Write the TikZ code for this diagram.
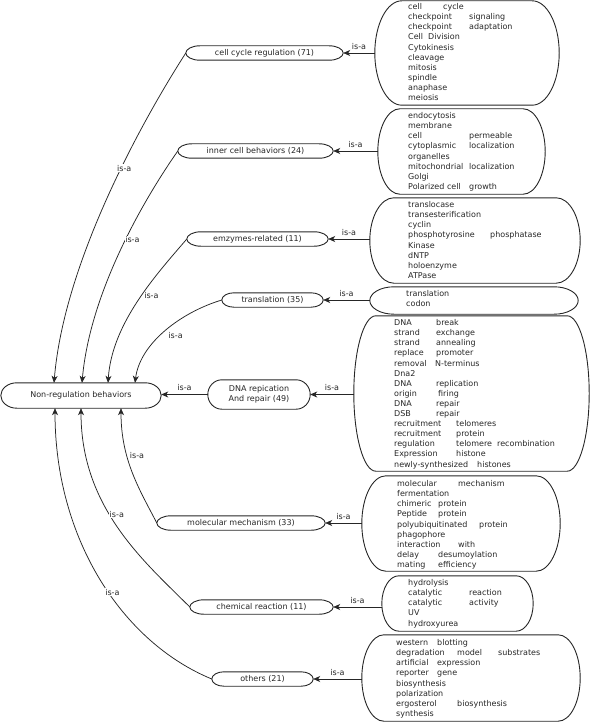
\documentclass[tikz,border=0pt]{standalone}
\usepackage{fontspec}
\setmainfont{DejaVu Sans}
\usetikzlibrary{arrows.meta}
% stadium outline with elliptical ends around a (rectangle) node: name, rx, ry (numbers in pt)
\newcommand\stad[3]{%
  \draw[bord] ([xshift=#2pt]#1.north west) -- ([xshift=-#2pt]#1.north east)
    .. controls +(0.5523*#2,0) and +(0,-0.5523*#3) .. (#1.east)
    .. controls +(0,0.5523*#3) and +(0.5523*#2,0) .. ([xshift=-#2pt]#1.south east)
    -- ([xshift=#2pt]#1.south west)
    .. controls +(-0.5523*#2,0) and +(0,0.5523*#3) .. (#1.west)
    .. controls +(0,-0.5523*#3) and +(-0.5523*#2,0) .. ([xshift=#2pt]#1.north west) -- cycle;}
\begin{document}
\begin{tikzpicture}[x=1pt,y=-1pt,font=\fontsize{8}{10.1}\selectfont,text=black!85,
  bord/.style={draw=black!85,line width=0.9pt},
  mn/.style={rectangle,inner sep=0pt,minimum height=14pt},
  bx/.style={rectangle,inner sep=0pt},
  isa/.style={draw=black!85,line width=0.75pt,-{Stealth[length=7pt,width=6pt,inset=2pt]}},
  lab/.style={fill=white,inner sep=0.6pt,font=\fontsize{8}{9}\selectfont},
  btxt/.style={anchor=north west,align=left,inner sep=0pt}]
\useasboundingbox (0,0) rectangle (600,722);

% main nodes
\node[mn,minimum width=157pt] (ccr) at (264.5,53) {cell cycle regulation (71)};
\node[mn,minimum width=155pt] (icb) at (255.5,151) {inner cell behaviors (24)};
\node[mn,minimum width=141pt] (emz) at (257.5,239) {emzymes-related (11)};
\node[mn,minimum width=101pt] (tra) at (272.5,300) {translation (35)};
\node[mn,minimum width=160pt,minimum height=25pt] (nr) at (81,395.5) {Non-regulation behaviors};
\node[mn,minimum width=102pt,minimum height=29pt,align=center] (dna) at (259,394.5) {DNA repication\\And repair (49)};
\node[mn,minimum width=168pt] (mol) at (241,523) {molecular mechanism (33)};
\node[mn,minimum width=143pt] (chem) at (261.5,607) {chemical reaction (11)};
\node[mn,minimum width=101pt] (oth) at (262.5,679) {others (21)};
\stad{ccr}{14}{7}
\stad{icb}{14}{7}
\stad{emz}{14}{7}
\stad{tra}{12}{7}
\stad{nr}{16}{12.5}
\stad{dna}{14}{14.5}
\stad{mol}{14}{7}
\stad{chem}{14}{7}
\stad{oth}{12}{7}

% term boxes
\node[bx,minimum width=184pt,minimum height=104pt] (b1) at (467,53) {};
\node[bx,minimum width=167pt,minimum height=85pt] (b2) at (461.5,151.5) {};
\node[bx,minimum width=210pt,minimum height=85pt] (b3) at (475,240.5) {};
\node[bx,minimum width=208pt,minimum height=27pt] (b4) at (474,300.5) {};
\node[bx,minimum width=235pt,minimum height=155pt] (b5) at (471.5,393.5) {};
\node[bx,minimum width=198pt,minimum height=95pt] (b6) at (461,523.5) {};
\node[bx,minimum width=151pt,minimum height=55pt] (b7) at (457.5,603.5) {};
\node[bx,minimum width=218pt,minimum height=86pt] (b8) at (471,678) {};
\stad{b1}{27}{52}
\stad{b2}{22}{42.5}
\stad{b3}{24}{42.5}
\stad{b4}{24}{13.5}
\stad{b5}{22}{77.5}
\stad{b6}{24}{47.5}
\stad{b7}{17}{27.5}
\stad{b8}{22}{43}

% box texts
\node[btxt] (t1) at (408,2.4) {\strut\makebox[35pt][l]{cell}cycle\\
\makebox[61pt][l]{checkpoint}signaling\\
\makebox[61pt][l]{checkpoint}adaptation\\
\makebox[20pt][l]{Cell}Division\\
Cytokinesis\\cleavage\\mitosis\\spindle\\anaphase\\meiosis};
\node[btxt] (t2) at (408,111.4) {\strut endocytosis\\membrane\\
\makebox[61pt][l]{cell}permeable\\
\makebox[61pt][l]{cytoplasmic}localization\\
organelles\\
\makebox[61pt][l]{mitochondrial}localization\\
Golgi\\
\makebox[61pt][l]{Polarized cell}growth};
\node[btxt] (t3) at (408,200.4) {\strut translocase\\transesterification\\cyclin\\
\makebox[82pt][l]{phosphotyrosine}phosphatase\\
Kinase\\dNTP\\holoenzyme\\ATPase};
\node[btxt] (t4) at (406,289.4) {\strut translation\\codon};
\node[btxt] (t5) at (394,318.4) {\strut\makebox[42pt][l]{DNA}break\\
\makebox[42pt][l]{strand}exchange\\
\makebox[42pt][l]{strand}annealing\\
\makebox[42pt][l]{replace}promoter\\
\makebox[41pt][l]{removal}N-terminus\\
Dna2\\
\makebox[42pt][l]{DNA}replication\\
\makebox[44pt][l]{origin}firing\\
\makebox[42pt][l]{DNA}repair\\
\makebox[42pt][l]{DSB}repair\\
\makebox[62pt][l]{recruitment}telomeres\\
\makebox[62pt][l]{recruitment}protein\\
\makebox[62pt][l]{regulation}\makebox[41pt][l]{telomere}recombination\\
\makebox[62pt][l]{Expression}histone\\
\makebox[83pt][l]{newly-synthesized}histones};
\node[btxt] (t6) at (397,479.4) {\strut\makebox[61pt][l]{molecular}mechanism\\
fermentation\\
\makebox[41pt][l]{chimeric}protein\\
\makebox[41pt][l]{Peptide}protein\\
\makebox[82pt][l]{polyubiquitinated}protein\\
phagophore\\
\makebox[61pt][l]{interaction}with\\
\makebox[41pt][l]{delay}desumoylation\\
\makebox[41pt][l]{mating}efficiency};
\node[btxt] (t7) at (408,578.4) {\strut hydrolysis\\
\makebox[61pt][l]{catalytic}reaction\\
\makebox[61pt][l]{catalytic}activity\\
UV\\hydroxyurea};
\node[btxt] (t8) at (396,638.4) {\strut\makebox[41pt][l]{western}blotting\\
\makebox[61pt][l]{degradation}\makebox[41pt][l]{model}substrates\\
\makebox[41pt][l]{artificial}expression\\
\makebox[41pt][l]{reporter}gene\\
biosynthesis\\polarization\\
\makebox[61pt][l]{ergosterol}biosynthesis\\
synthesis};

% box -> category
\draw[isa] (ccr.east -| b1.west) -- node[lab,above=2.5pt]{is-a} (ccr.east);
\draw[isa] (icb.east -| b2.west) -- node[lab,above=2.5pt]{is-a} (icb.east);
\draw[isa] (emz.east -| b3.west) -- node[lab,above=2.5pt]{is-a} (emz.east);
\draw[isa] (tra.east -| b4.west) -- node[lab,above=2.5pt]{is-a} (tra.east);
\draw[isa] (dna.east -| b5.west) -- node[lab,above=2.5pt]{is-a} (dna.east);
\draw[isa] (mol.east -| b6.west) -- node[lab,above=2.5pt]{is-a} (mol.east);
\draw[isa] (chem.east -| b7.west) -- node[lab,above=2.5pt]{is-a} (chem.east);
\draw[isa] (oth.east -| b8.west) -- node[lab,above=2.5pt]{is-a} (oth.east);
\draw[isa] (dna.west) -- node[lab,above=2.5pt]{is-a} (dna.west -| nr.east);

% category -> Non-regulation behaviors
\draw[isa] (ccr.west) .. controls +(-45,70) and +(10,-120) .. node[lab,pos=0.41,xshift=3pt]{is-a} ([xshift=-27pt]nr.north);
\draw[isa] (icb.west) .. controls +(-35,50) and +(8,-90) .. node[lab,pos=0.45,xshift=7pt]{is-a} ([xshift=1pt]nr.north);
\draw[isa] (emz.west) .. controls +(-30,35) and +(4,-60) .. node[lab,pos=0.46,xshift=10pt]{is-a} ([xshift=27pt]nr.north);
\draw[isa] (tra.west) .. controls +(-40,12) and +(5,-40) .. node[lab,pos=0.55,xshift=15pt]{is-a} ([xshift=54pt]nr.north);
\draw[isa] (mol.west) .. controls +(-17,-33) and +(0,52) .. node[lab,pos=0.65,xshift=10pt]{is-a} ([xshift=40pt]nr.south);
\draw[isa] (chem.west) .. controls +(-45,-45) and +(0,100) .. node[lab,pos=0.57,xshift=7pt]{is-a} (nr.south);
\draw[isa] (oth.west) .. controls +(-90,-37) and +(0,130) .. node[lab,pos=0.45,xshift=4pt]{is-a} ([xshift=-26pt]nr.south);
\end{tikzpicture}
\end{document}
